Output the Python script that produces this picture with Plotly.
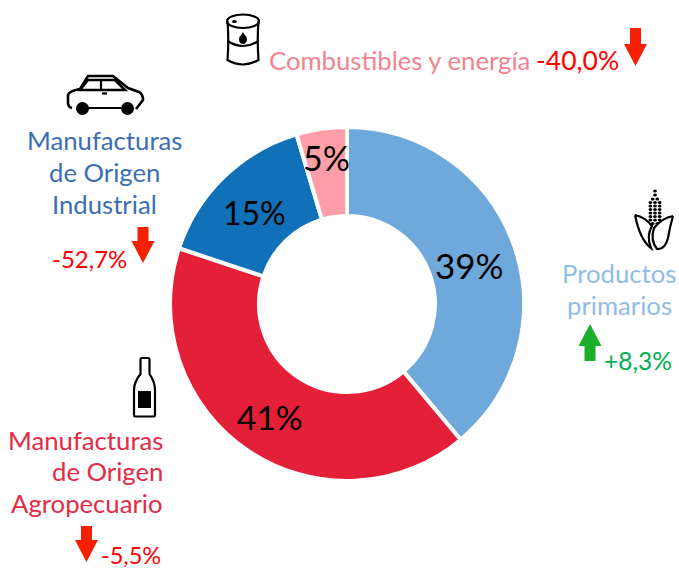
import plotly.graph_objects as go

W, H = 679, 570
FONT = "Lato"

categories = ["Productos primarios", "Manufacturas de Origen Agropecuario",
              "Manufacturas de Origen Industrial", "Combustibles y energía"]
shares = [38.9, 41.2, 15.3, 4.6]
slice_colors = ["#6FA9DC", "#E41F38", "#1071B9", "#FF9EA8"]
changes = ["+8,3%", "-5,5%", "-52,7%", "-40,0%"]


def px(x):
    return x / W


def py(y):
    return 1 - y / H


def svg(cmds):
    """cmds: list of (letter, x, y, x, y ...) in pixel space, or 'Z'."""
    out = []
    for c in cmds:
        if c == "Z":
            out.append("Z")
            continue
        nums = c[1:]
        pairs = [f"{px(nums[i]):.5f},{py(nums[i + 1]):.5f}" for i in range(0, len(nums), 2)]
        out.append(c[0] + " ".join(pairs))
    return " ".join(out)


def curve(cmds, fill=None, line=None, width=0):
    return dict(type="path", xref="paper", yref="paper", path=svg(cmds),
                fillcolor=fill if fill else "rgba(0,0,0,0)",
                line=dict(color=line if line else "rgba(0,0,0,0)", width=width))


def poly(points, fill=None, line=None, width=0, close=True):
    cmds = [("M", *points[0])] + [("L", *p) for p in points[1:]]
    if close:
        cmds.append("Z")
    return curve(cmds, fill, line, width)


def ell(x0, y0, x1, y1, fill=None, line=None, width=0):
    return dict(type="circle", xref="paper", yref="paper",
                x0=px(x0), x1=px(x1), y0=py(y1), y1=py(y0),
                fillcolor=fill if fill else "rgba(0,0,0,0)",
                line=dict(color=line if line else "rgba(0,0,0,0)", width=width))


def arrow(cx, top, neck, tip, color):
    hw, sw = 11.5, 5.5
    return poly([(cx - sw, top), (cx + sw, top), (cx + sw, neck), (cx + hw, neck),
                 (cx, tip), (cx - hw, neck), (cx - sw, neck)], fill=color)


cx, cy, R = 347, 304, 177
fig = go.Figure(go.Pie(
    labels=categories, values=shares, sort=False, direction="clockwise", rotation=0,
    hole=0.497, textinfo="none", showlegend=False,
    marker=dict(colors=slice_colors, line=dict(color="#FFFFFF", width=4)),
    domain=dict(x=[px(cx - R), px(cx + R)], y=[py(cy + R), py(cy - R)]),
))

shapes = [
    arrow(635.5, 28, 44, 66, "#F52000"),
    arrow(143, 227, 241, 263, "#F52000"),
    arrow(86.5, 526, 540, 562, "#F52000"),
    arrow(590, 361, 346, 324, "#1AAE2A"),
]

K = "#000000"
LW = 2.2
# barrel
shapes += [
    ell(227, 14.5, 259, 28, line=K, width=LW),
    curve([("M", 227.5, 21), ("Q", 229, 40, 227.5, 60), ("Q", 243, 69, 258.5, 60),
           ("Q", 257, 40, 258.5, 21)], line=K, width=LW),
    curve([("M", 227.5, 41), ("Q", 243, 51, 258.5, 41)], line=K, width=LW),
    ell(232, 20, 237, 23, fill=K),
    ell(239, 35, 247, 44, fill=K),
    poly([(243, 32), (246.5, 38), (239.5, 38)], fill=K),
]
# car
shapes += [
    curve([("M", 72, 108), ("Q", 68, 107, 68, 103), ("L", 68, 95), ("Q", 69, 91, 80, 89),
           ("L", 88, 76), ("L", 113, 76), ("L", 128, 88), ("L", 139, 92),
           ("Q", 143, 94, 143, 100), ("L", 136, 109)], line=K, width=LW + 0.4),
    poly([(80, 90), (88, 80), (115, 80), (125, 90)], line=K, width=LW + 0.4),
    poly([(101, 80), (101, 90)], line=K, width=LW, close=False),
    poly([(102, 93.5), (107, 93.5)], line=K, width=LW, close=False),
    poly([(88, 108), (121, 108)], line=K, width=LW, close=False),
    ell(76, 102, 89, 115, fill=K),
    ell(121, 102, 134, 115, fill=K),
]
# bottle
shapes += [
    curve([("M", 140.5, 359), ("Q", 140.5, 358, 142, 358), ("L", 148, 358),
           ("Q", 149.5, 358, 149.5, 359), ("L", 149.5, 374), ("Q", 155, 382, 155, 390),
           ("L", 155, 415), ("Q", 155, 416.5, 153, 416.5), ("L", 136, 416.5),
           ("Q", 134, 416.5, 134, 415), ("L", 134, 390), ("Q", 134, 382, 140.5, 374), "Z"],
          line=K, width=LW),
    poly([(138, 391), (151, 391), (151, 408), (138, 408)], fill=K),
]
# corn: cob dots, then leaves
cob_rows = [(191, 1), (195, 1), (199, 2), (202.5, 3), (206, 3), (209.5, 3),
            (213, 3), (216.5, 3), (220, 3), (223.5, 2)]
for ry, n in cob_rows:
    for i in range(n):
        dx = (i - (n - 1) / 2) * 4.6
        shapes.append(ell(655 + dx - 1.9, ry - 1.6, 655 + dx + 1.9, ry + 1.6, fill=K))
shapes += [
    curve([("M", 635, 215), ("Q", 645, 217, 652, 226), ("Q", 646, 236, 651, 248),
           ("Q", 640, 240, 635, 215)], fill="#FFFFFF", line=K, width=LW),
    curve([("M", 673, 216), ("Q", 662, 218, 654, 228), ("Q", 650, 240, 657, 249),
           ("Q", 665, 250, 668, 238), ("Q", 670, 226, 673, 216)], fill="#FFFFFF", line=K, width=LW),
]


def note(x, y, text, color, size=25, anchor="center"):
    return dict(xref="paper", yref="paper", x=px(x), y=py(y), text=text, showarrow=False,
                xanchor=anchor, yanchor="middle", align=anchor,
                font=dict(family=FONT, size=size, color=color))


ann = [
    note(267, 60, "Combustibles y energía", "#F4838F", 25.7, "left"),
    note(104, 140, "Manufacturas", "#3C6EB4", 25.7),
    note(104, 172, "de Origen", "#3C6EB4", 25.7),
    note(104, 204, "Industrial", "#3C6EB4", 25.7),
    note(165, 440, "Manufacturas", "#E52A45", 25.7, "right"),
    note(165, 471, "de Origen", "#E52A45", 25.7, "right"),
    note(165, 503, "Agropecuario", "#E52A45", 25.7, "right"),
    note(619, 273, "Productos", "#8FBDE8", 25.7),
    note(619, 305, "primarios", "#8FBDE8", 25.7),
    note(534, 60, changes[3], "#FF0000", 26.5, "left"),
    note(50, 258, changes[2], "#FF0000", 24, "left"),
    note(98.5, 555, changes[1], "#FF0000", 23.5, "left"),
    note(602, 360, changes[0], "#00B050", 24.5, "left"),
]

label_pos = [(469, 265), (270, 417), (254, 212), (326, 158)]
label_size = [35, 33.5, 32, 34]
for (x, y), v, s in zip(label_pos, shares, label_size):
    ann.append(note(x, y, f"{round(v)}%", "#000000", s))

fig.update_layout(width=W, height=H, margin=dict(l=0, r=0, t=0, b=0),
                  paper_bgcolor="#FFFFFF", shapes=shapes, annotations=ann,
                  font=dict(family=FONT))
fig.write_html("out.html", config=dict(displayModeBar=False),
               post_script="document.body.style.margin='0';")
